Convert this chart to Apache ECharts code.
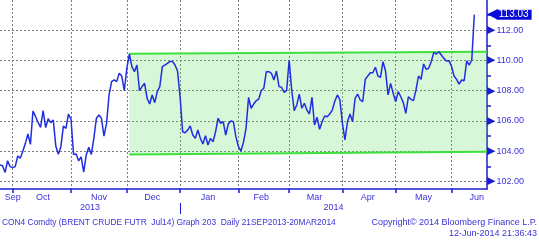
<!DOCTYPE html>
<html>
<head>
<meta charset="utf-8">
<script src="https://cdn.jsdelivr.net/npm/echarts@6/dist/echarts.min.js"></script>
<style>
html,body{margin:0;padding:0;background:#fff;}
#c{width:539px;height:241px;}
</style>
</head>
<body>
<div id="c"></div>
<script>
// ---- data ----
const firstTradingDay = '2013-09-24';
const axisTradingDays = 193;            // trading days on the x axis (data + right padding)
const closes = [
  103.09,103.04,102.6,103.37,102.98,102.91,102.98,103.68,103.53,104.0,
  104.52,105.14,104.45,106.66,106.3,105.9,105.58,106.68,105.56,106.15,
  105.89,106.06,104.34,103.79,104.3,105.67,105.51,106.46,106.11,103.79,
  103.81,103.37,103.63,102.62,103.75,104.26,103.79,104.85,106.18,106.39,
  106.18,105.0,105.84,107.72,108.6,108.71,108.6,109.15,108.97,108.0,
  109.48,110.43,109.59,109.26,109.7,108.0,108.27,108.49,107.5,107.12,
  107.72,107.21,107.94,108.27,109.59,109.7,109.81,109.94,109.94,109.7,
  109.3,107.6,105.29,105.22,105.4,105.67,105.07,104.85,105.4,104.85,
  104.48,105.03,104.41,104.85,104.63,105.29,106.18,105.84,105.95,105.07,
  105.8,106.0,105.95,104.96,104.3,104.01,104.6,105.51,107.56,106.84,
  107.12,107.34,107.45,108.0,108.16,109.26,109.26,109.15,108.71,109.3,
  108.27,108.23,107.9,108.0,110.03,108.05,106.68,107.06,107.78,106.84,
  107.17,106.72,106.46,107.56,105.73,106.24,105.45,105.95,106.33,106.28,
  106.46,106.72,107.3,107.72,107.39,105.84,104.74,105.95,106.46,105.95,
  107.5,107.78,107.39,107.27,108.75,108.97,109.19,109.19,109.55,108.97,
  108.89,109.92,109.3,107.72,108.49,107.83,107.27,107.94,107.6,107.21,
  106.5,107.6,107.43,107.34,108.05,108.97,108.75,109.77,109.42,109.48,
  109.92,110.52,110.43,110.58,110.36,110.14,109.97,109.99,109.63,108.97,
  108.75,108.44,108.71,108.66,109.97,109.7,110.03,113.03
];
// trend channel (start index, end index, values)
const channelIdx = [51, 192];
const channelLow = [103.79, 103.97];
const channelHigh = [110.45, 110.58];
// axis labels / ticks
const monthTickIdx = [5, 28, 50, 71, 94, 114, 135, 156, 178];
const monthLabelIdx = [5, 17, 39, 60, 82, 103, 124, 145, 167, 188];
const monthNames = ['Sep','Oct','Nov','Dec','Jan','Feb','Mar','Apr','May','Jun'];
const yearNames = ['2013', '2014'];
const yearBreakIdx = 71;
const yLabelValues = [102, 104, 106, 108, 110, 112];
const yMinorValues = [103, 105, 107, 109, 111, 113];
const yMin = 101.5, yMax = 114;
const footerLeft = 'CON4 Comdty (BRENT CRUDE FUTR  Jul14) Graph 203  Daily 21SEP2013-20MAR2014';
const footerRight1 = 'Copyright\u00A9 2014 Bloomberg Finance L.P.';
const footerRight2 = '12-Jun-2014 21:36:43';

// ---- build categories (weekdays) ----
function fmt(d){const m=d.getUTCMonth()+1, dd=d.getUTCDate();return d.getUTCFullYear()+'-'+(m<10?'0':'')+m+'-'+(dd<10?'0':'')+dd;}
const cats = [];
{
  const d = new Date(firstTradingDay + 'T00:00:00Z');
  while (cats.length < axisTradingDays) {
    const wd = d.getUTCDay();
    if (wd !== 0 && wd !== 6) cats.push(fmt(d));
    d.setUTCDate(d.getUTCDate() + 1);
  }
}

const BLUE = '#1c1ccf';
const TXT = '#3a32d8';
const FONT = 'Liberation Sans';
const lastVal = closes[closes.length - 1];

const chart = echarts.init(document.getElementById('c'), null, {renderer: 'canvas'});
const option = {
  animation: false,
  backgroundColor: '#ffffff',
  grid: {left: 0, right: 52, top: 0, bottom: 52, containLabel: false},
  xAxis: {
    type: 'category', data: cats, boundaryGap: false,
    axisLine: {show: true, lineStyle: {color: BLUE, width: 1.5}},
    axisTick: {show: true, interval: (i) => monthTickIdx.includes(i), length: 4, lineStyle: {color: BLUE, width: 1.5}},
    axisLabel: {
      interval: (i) => monthLabelIdx.includes(i),
      formatter: (v, i) => monthNames[monthLabelIdx.indexOf(i)] || '',
      color: TXT, fontSize: 9, fontFamily: FONT, margin: 4
    },
    splitLine: {show: true, interval: (i) => monthTickIdx.includes(i), lineStyle: {color: '#7a7a7a', type: [2, 2], width: 1}}
  },
  yAxis: [{
    type: 'value', position: 'right', min: yMin, max: yMax,
    axisLine: {show: true, lineStyle: {color: BLUE, width: 1.5}},
    axisTick: {show: false, customValues: yLabelValues},
    axisLabel: {
      customValues: yLabelValues, margin: 0,
      formatter: (v) => '{t|\u25B6}{v|' + v.toFixed(2) + '}',
      rich: {
        t: {color: BLUE, fontSize: 11, fontFamily: 'DejaVu Sans', padding: [0, 1, 0, 0]},
        v: {color: TXT, fontSize: 9, fontFamily: FONT}
      }
    },
    splitLine: {show: true, lineStyle: {color: '#7a7a7a', type: [2, 2], width: 1}}
  }, {
    type: 'value', position: 'right', min: yMin, max: yMax,
    axisLine: {show: false},
    axisTick: {show: true, customValues: yMinorValues, length: 4, lineStyle: {color: BLUE, width: 1.5}},
    axisLabel: {show: false},
    splitLine: {show: false}
  }],
  series: [
    {
      type: 'line', name: 'chanBase', stack: 'chan', symbol: 'none', silent: true,
      data: channelIdx.map((k, j) => [cats[k], channelLow[j]]),
      lineStyle: {opacity: 0}, z: 1
    },
    {
      type: 'line', name: 'chanFill', stack: 'chan', symbol: 'none', silent: true,
      data: channelIdx.map((k, j) => [cats[k], channelHigh[j] - channelLow[j]]),
      lineStyle: {opacity: 0}, areaStyle: {color: 'rgba(100,220,100,0.25)', opacity: 1}, z: 1
    },
    {
      type: 'line', name: 'chanLow', symbol: 'none', silent: true,
      data: channelIdx.map((k, j) => [cats[k], channelLow[j]]),
      lineStyle: {color: '#3ee03e', width: 2}, z: 2
    },
    {
      type: 'line', name: 'chanHigh', symbol: 'none', silent: true,
      data: channelIdx.map((k, j) => [cats[k], channelHigh[j]]),
      lineStyle: {color: '#3ee03e', width: 2}, z: 2
    },
    {
      type: 'line', name: 'CON4', symbol: 'none', silent: true,
      data: closes,
      lineStyle: {color: '#1f2fe0', width: 1.5}, z: 3,
      markLine: {
        silent: true, symbol: 'none',
        lineStyle: {color: 'rgba(0,0,0,0)', width: 0},
        data: [{yAxis: lastVal}],
        label: {
          show: true, position: 'end', distance: 0,
          formatter: () => '{a|\u25C0}{b|' + lastVal.toFixed(2) + '}',
          rich: {
            a: {color: '#0a0ad8', fontSize: 14, lineHeight: 13, fontFamily: 'DejaVu Sans', padding: [0, -1, 0, 0]},
            b: {color: '#ffffff', backgroundColor: '#0a0ad8', fontSize: 10, lineHeight: 13, fontFamily: FONT, padding: [0, 3, 0, 2]}
          }
        }
      }
    }
  ]
};
chart.setOption(option);

// decorations below axis: year labels, year separator, footer
const x0 = chart.convertToPixel({xAxisIndex: 0}, cats[0]);
const xBreak = chart.convertToPixel({xAxisIndex: 0}, cats[yearBreakIdx]);
const xEnd = chart.convertToPixel({xAxisIndex: 0}, cats[cats.length - 1]);
const tStyle = {fill: TXT, fontSize: 9, fontFamily: FONT};
chart.setOption({
  graphic: [
    {type: 'text', x: (x0 + xBreak) / 2, y: 208, style: Object.assign({text: yearNames[0], align: 'center', verticalAlign: 'middle'}, tStyle)},
    {type: 'text', x: (xBreak + xEnd) / 2, y: 208, style: Object.assign({text: yearNames[1], align: 'center', verticalAlign: 'middle'}, tStyle)},
    {type: 'line', shape: {x1: Math.round(xBreak) + 0.5, y1: 203, x2: Math.round(xBreak) + 0.5, y2: 214}, style: {stroke: BLUE, lineWidth: 1}},
    {type: 'text', x: 2, y: 223, style: Object.assign({}, tStyle, {text: footerLeft, align: 'left', verticalAlign: 'middle', fontSize: 8.4})},
    {type: 'text', x: 537, y: 223, style: Object.assign({text: footerRight1, align: 'right', verticalAlign: 'middle'}, tStyle)},
    {type: 'text', x: 537, y: 234, style: Object.assign({text: footerRight2, align: 'right', verticalAlign: 'middle'}, tStyle)}
  ]
});
</script>
</body>
</html>
